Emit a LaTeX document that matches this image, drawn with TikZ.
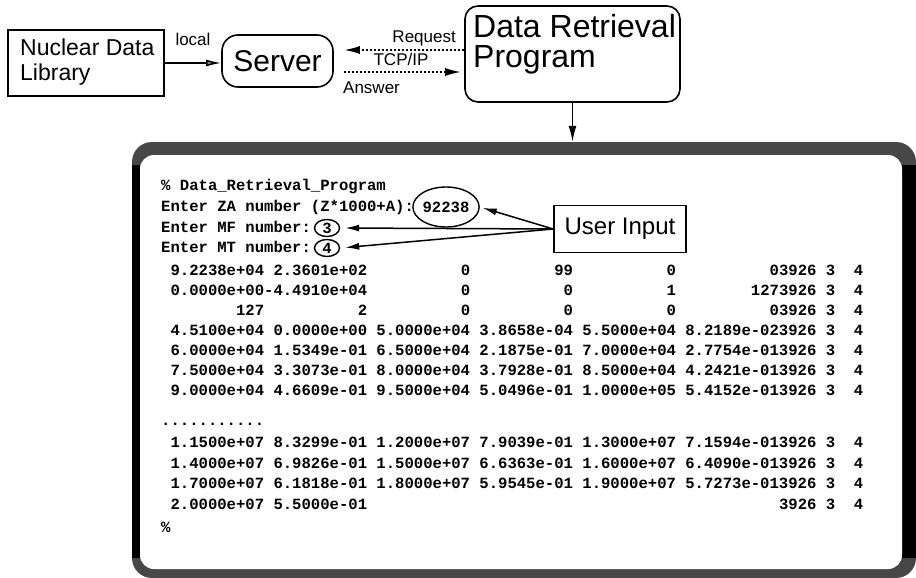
\documentclass[tikz,border=0pt]{standalone}
\usepackage{fontspec}
\setmainfont{Liberation Sans}
\newfontfamily\termfont{Liberation Mono}
\usetikzlibrary{arrows.meta,shapes.geometric}
\newcommand\gap[1]{\hspace*{#1\fontcharwd\font`\0}}
\begin{document}
\begin{tikzpicture}[x=1pt,y=-1pt,
  boxline/.style={draw, line width=1.6pt, inner sep=0pt},
  lbl/.style={font=\fontsize{17}{19}\selectfont, inner sep=0pt},
  bigtext/.style={inner sep=0pt, align=left, anchor=north west},
  term/.style={font={\termfont\bfseries\fontsize{15.6}{18}\selectfont\frenchspacing}, inner sep=0pt, anchor=base west},
  ring/.style={draw, ellipse, line width=1.4pt, inner sep=0pt, font={\termfont\bfseries\fontsize{15.6}{18}\selectfont}},
  arr/.style={line width=1.5pt, -{Latex[length=14pt,width=7pt]}},
  dotarr/.style={line width=2pt, dash pattern=on 2pt off 2pt, -{Latex[length=16pt,width=8pt]}},
]
\useasboundingbox (0,0) rectangle (916,578);

% screen frame
\node[fill=black!72, rounded corners=20pt, minimum width=784pt, minimum height=436pt, inner sep=0pt] (screen) at (524,360) {};
\fill[black] (132,165) rectangle (140,558);
\fill[black] (902,165) rectangle (916,558);
\fill[white, rounded corners=14pt] (140,155) rectangle (902,569);

% top row
\node[boxline, minimum width=156pt, minimum height=66pt] (lib) at (86,63) {};
\node[bigtext, font=\fontsize{23}{25}\selectfont] (libtext) at (20,38.2) {Nuclear Data\\Library};

\node[boxline, rounded corners=16pt, minimum width=111pt, minimum height=52pt, font=\fontsize{30}{32}\selectfont] (server) at (277.5,61) {Server};

\node[boxline, rounded corners=13pt, minimum width=215pt, minimum height=96pt] (drp) at (572.5,54) {};
\node[bigtext, font=\fontsize{32}{30}\selectfont] (drptext) at (473,14.2) {Data Retrieval\\Program};

\draw[line width=1.5pt, -{Latex[length=15pt,width=7pt,fill=black!45]}] (lib.east) -- (lib.east -| server.west);
\node[lbl, anchor=base] (llocal) at (193,46) {local};

\coordinate (rq) at ([yshift=4pt]drp.west);
\coordinate (an) at ([yshift=-18pt]drp.west);
\draw[dotarr, shorten >=10pt] (rq) -- (rq -| server.east);
\draw[dotarr, shorten <=10pt, shorten >=3pt] (an -| server.east) -- (an);
\node[lbl, anchor=base east] (lreq) at (456,43) {Request};
\node[lbl, anchor=base] (ltcp) at (401,66) {TCP/IP};
\node[lbl, anchor=base west] (lans) at (343,93) {Answer};

\draw[line width=1.5pt, -{Latex[length=16pt,width=8pt]}] (drp.south) -- (drp.south |- screen.north);

% terminal text
\node[term] (t1) at (161,190.5) {\% Data\_Retrieval\_Program};
\node[term] (t2) at (161,211.5) {Enter ZA number (Z*1000+A):};
\node[term] (t3) at (161,232.5) {Enter MF number:};
\node[term] (t4) at (161,252.5) {Enter MT number:};
\node[ring, minimum width=60pt, minimum height=40pt] (za) at (446,207) {92238};
\node[ring, minimum width=25pt, minimum height=17pt] (mf) at (327,228) {3};
\node[ring, minimum width=25pt, minimum height=17pt] (mt) at (327,248) {4};

\node[term] (r1) at (161,275.5) {\gap{1}9.2238e+04 2.3601e+02\gap{10}0\gap{9}99\gap{10}0\gap{10}03926 3\gap{2}4};
\node[term] (r2) at (161,295.5) {\gap{1}0.0000e+00-4.4910e+04\gap{10}0\gap{10}0\gap{10}1\gap{8}1273926 3\gap{2}4};
\node[term] (r3) at (161,315.5) {\gap{8}127\gap{10}2\gap{10}0\gap{10}0\gap{10}0\gap{10}03926 3\gap{2}4};
\node[term] (r4) at (161,335.5) {\gap{1}4.5100e+04 0.0000e+00 5.0000e+04 3.8658e-04 5.5000e+04 8.2189e-023926 3\gap{2}4};
\node[term] (r5) at (161,355.5) {\gap{1}6.0000e+04 1.5349e-01 6.5000e+04 2.1875e-01 7.0000e+04 2.7754e-013926 3\gap{2}4};
\node[term] (r6) at (161,375.5) {\gap{1}7.5000e+04 3.3073e-01 8.0000e+04 3.7928e-01 8.5000e+04 4.2421e-013926 3\gap{2}4};
\node[term] (r7) at (161,395.5) {\gap{1}9.0000e+04 4.6609e-01 9.5000e+04 5.0496e-01 1.0000e+05 5.4152e-013926 3\gap{2}4};
\node[term] (dots) at (161,425) {...........};
\node[term] (r8) at (161,447.5) {\gap{1}1.1500e+07 8.3299e-01 1.2000e+07 7.9039e-01 1.3000e+07 7.1594e-013926 3\gap{2}4};
\node[term] (r9) at (161,468) {\gap{1}1.4000e+07 6.9826e-01 1.5000e+07 6.6363e-01 1.6000e+07 6.4090e-013926 3\gap{2}4};
\node[term] (r10) at (161,488.5) {\gap{1}1.7000e+07 6.1818e-01 1.8000e+07 5.9545e-01 1.9000e+07 5.7273e-013926 3\gap{2}4};
\node[term] (r11) at (161,509) {\gap{1}2.0000e+07 5.5000e-01\gap{44}3926 3\gap{2}4};
\node[term] (prompt) at (161,532) {\%};

% user input
\node[boxline, minimum width=132pt, minimum height=47pt, font=\fontsize{24}{26}\selectfont] (ui) at (620,229) {User Input};
\draw[arr, shorten >=3pt] (ui.west) -- (za.east);
\draw[arr, shorten >=5pt] (ui.west) -- (mf.east);
\draw[arr, shorten >=5pt] (ui.west) -- (mt.east);
\end{tikzpicture}
\end{document}
